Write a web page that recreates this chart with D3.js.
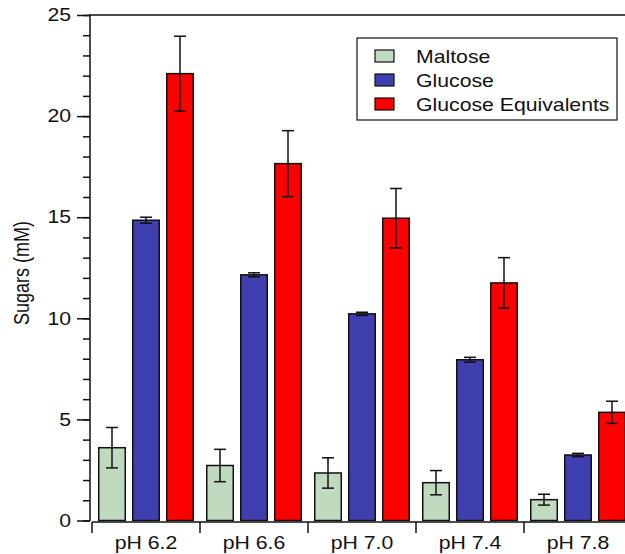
<!DOCTYPE html>
<html><head><meta charset="utf-8">
<script src="https://cdn.jsdelivr.net/npm/d3@7"></script>
<style>
html,body{margin:0;padding:0;background:#fff;}
svg{display:block;font-family:"Liberation Sans",Arial,sans-serif;}
</style></head>
<body>
<svg id="chart" width="625" height="554"></svg>
<script>
const categories = ["pH 6.2","pH 6.6","pH 7.0","pH 7.4","pH 7.8"];
const seriesNames = ["Maltose","Glucose","Glucose Equivalents"];
const maltose = [3.6, 2.72, 2.35, 1.87, 1.03];
const maltoseErr = [1.0, 0.8, 0.75, 0.6, 0.27];
const glucose = [14.85, 12.15, 10.22, 7.95, 3.24];
const glucoseErr = [0.15, 0.1, 0.08, 0.12, 0.08];
const glucEq = [22.1, 17.65, 14.95, 11.75, 5.35];
const glucEqErr = [1.85, 1.63, 1.47, 1.25, 0.55];
const colors = ["#c0dac0","#3f3fb0","#ff0000"];
const yTicks = [0,5,10,15,20,25];

const values = [maltose, glucose, glucEq];
const errs = [maltoseErr, glucoseErr, glucEqErr];

const svg = d3.select("#chart");
const mLeft = 90, mTop = 15, mBottom = 520.5;
const SX = 1.18; // horizontal stretch of text
const FS = 18;
const x0 = d3.scaleBand().domain(categories).range([92, 632]).padding(0);
const x1 = d3.scaleBand().domain(seriesNames).range([0, x0.bandwidth()]).padding(6/34);
const y = d3.scaleLinear().domain([0,25]).range([mBottom, mTop]);

const ink = "#111";

// top frame line
svg.append("line").attr("x1", mLeft).attr("x2", 640).attr("y1", mTop).attr("y2", mTop)
  .attr("stroke", ink).attr("stroke-width", 1.5);

// left axis minor ticks
const yAxisG = svg.append("g").attr("transform", `translate(${mLeft},0)`);
yAxisG.call(d3.axisLeft(y).tickValues(d3.range(0,26,1)).tickSize(7).tickFormat(""))
  .call(g => g.select(".domain").remove());
yAxisG.selectAll(".tick line").attr("stroke", ink).attr("stroke-width", 1.5);
const yMajor = svg.append("g").attr("transform", `translate(${mLeft},0)`);
yMajor.call(d3.axisLeft(y).tickValues(yTicks).tickSize(13).tickPadding(6).tickFormat(d3.format("d")));
yMajor.select(".domain").remove();
yMajor.selectAll(".tick line").attr("stroke", ink).attr("stroke-width", 1.5);
yMajor.selectAll(".tick text").attr("font-size", FS).attr("fill", ink)
  .attr("font-family", '"Liberation Sans",Arial,sans-serif')
  .each(function(){
    const t = d3.select(this);
    t.attr("x", (+t.attr("x")) / SX).attr("transform", `scale(${SX},1)`);
  });
svg.append("line").attr("x1", mLeft).attr("x2", mLeft).attr("y1", mTop - 0.75).attr("y2", mBottom + 0.5)
  .attr("stroke", ink).attr("stroke-width", 1.5);

// y label
svg.append("text").attr("transform", `translate(29,273) scale(${SX},1) rotate(-90)`)
  .attr("text-anchor", "middle").attr("font-size", FS).attr("fill", ink).text("Sugars (mM)");

// bottom axis
const xAxisG = svg.append("g").attr("transform", `translate(0,522)`);
xAxisG.append("line").attr("x1", 92).attr("x2", 640).attr("y1", 0).attr("y2", 0)
  .attr("stroke", ink).attr("stroke-width", 1.5);
xAxisG.selectAll("line.sep").data(d3.range(categories.length + 1)).enter().append("line")
  .attr("class", "sep")
  .attr("x1", i => i < categories.length ? x0(categories[i]) : x0.range()[1])
  .attr("x2", i => i < categories.length ? x0(categories[i]) : x0.range()[1])
  .attr("y1", 0).attr("y2", 11).attr("stroke", ink).attr("stroke-width", 1.5);
xAxisG.selectAll("text.cat").data(categories).enter().append("text")
  .attr("class", "cat")
  .attr("transform", d => `translate(${x0(d) + x0.bandwidth()/2},27) scale(${SX},1)`)
  .attr("text-anchor", "middle").attr("font-size", FS).attr("fill", ink).text(d => d);

// bars
const groups = svg.selectAll("g.grp").data(categories).enter().append("g")
  .attr("class","grp").attr("transform", d => `translate(${x0(d)},0)`);
seriesNames.forEach((s, si) => {
  groups.append("rect")
    .attr("x", (d) => x1(s) + 0.75)
    .attr("width", x1.bandwidth() - 1.5)
    .attr("y", (d, i) => y(values[si][i]))
    .attr("height", (d, i) => mBottom - y(values[si][i]))
    .attr("fill", colors[si]).attr("stroke", ink).attr("stroke-width", 1.5);
});
seriesNames.forEach((s, si) => {
  const cx = x1(s) + x1.bandwidth()/2;
  const eb = groups.append("g").attr("stroke", ink).attr("stroke-width", 1.5);
  eb.append("line").attr("x1", cx).attr("x2", cx)
    .attr("y1", (d,i) => y(values[si][i] + errs[si][i]))
    .attr("y2", (d,i) => y(values[si][i] - errs[si][i]));
  eb.append("line").attr("x1", cx - 6).attr("x2", cx + 6)
    .attr("y1", (d,i) => y(values[si][i] + errs[si][i]))
    .attr("y2", (d,i) => y(values[si][i] + errs[si][i]));
  eb.append("line").attr("x1", cx - 6).attr("x2", cx + 6)
    .attr("y1", (d,i) => y(values[si][i] - errs[si][i]))
    .attr("y2", (d,i) => y(values[si][i] - errs[si][i]));
});

// legend
const lg = svg.append("g").attr("transform", "translate(357,38)");
lg.append("rect").attr("x", 0).attr("y", 0).attr("width", 260).attr("height", 82)
  .attr("fill", "#fff").attr("stroke", ink).attr("stroke-width", 1.2);
seriesNames.forEach((s, i) => {
  const yy = 18 + i * 24;
  lg.append("rect").attr("x", 18).attr("y", yy - 6).attr("width", 19).attr("height", 12)
    .attr("fill", colors[i]).attr("stroke", ink).attr("stroke-width", 1.2);
  lg.append("text").attr("transform", `translate(59,${yy + 7}) scale(${SX},1)`)
    .attr("font-size", FS).attr("fill", ink).text(s);
});
</script>
</body></html>
